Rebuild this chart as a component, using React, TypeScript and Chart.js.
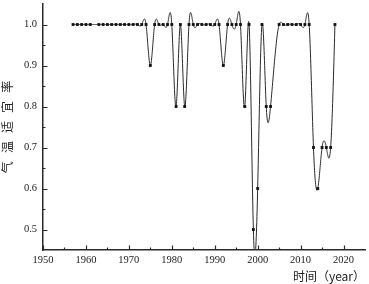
import React, { useEffect, useRef } from "react";
import { Chart, registerables } from "chart.js";

Chart.register(...registerables);

// Years with data (1962 and 2004 have no point)
const years = [
  1957, 1958, 1959, 1960, 1961,
  1963, 1964, 1965, 1966, 1967, 1968, 1969, 1970, 1971, 1972, 1973, 1974,
  1975, 1976, 1977, 1978, 1979, 1980, 1981, 1982, 1983,
  1984, 1985, 1986, 1987, 1988, 1989, 1990, 1991, 1992,
  1993, 1994, 1995, 1996, 1997, 1998, 1999, 2000, 2001, 2002, 2003,
  2005, 2006, 2007, 2008, 2009, 2010, 2011, 2012,
  2013, 2014, 2015, 2016, 2017, 2018,
];
const rates = [
  1.0, 1.0, 1.0, 1.0, 1.0,
  1.0, 1.0, 1.0, 1.0, 1.0, 1.0, 1.0, 1.0, 1.0, 1.0, 1.0, 1.0,
  0.9, 1.0, 1.0, 1.0, 1.0, 1.0, 0.8, 1.0, 0.8,
  1.0, 1.0, 1.0, 1.0, 1.0, 1.0, 1.0, 1.0, 0.9,
  1.0, 1.0, 1.0, 1.0, 0.8, 1.0, 0.5, 0.6, 1.0, 0.8, 0.8,
  1.0, 1.0, 1.0, 1.0, 1.0, 1.0, 1.0, 1.0,
  0.7, 0.6, 0.7, 0.7, 0.7, 1.0,
];
const xTickValues = [1950, 1960, 1970, 1980, 1990, 2000, 2010, 2020];
const xMinorValues = [1955, 1965, 1975, 1985, 1995, 2005, 2015];
const yTickValues = [0.5, 0.6, 0.7, 0.8, 0.9, 1.0];
const yMinorValues = [0.55, 0.65, 0.75, 0.85, 0.95];
const xTitle = "时间（year）";
const yTitle = "气   温   适   宜   率";

function secondDerivs(xs: number[], ys: number[]): number[] {
  const n = xs.length;
  const M = new Array(n).fill(0);
  if (n < 3) return M;
  const a: number[] = [], b: number[] = [], c: number[] = [], d: number[] = [];
  for (let i = 1; i < n - 1; i++) {
    const h0 = xs[i] - xs[i - 1];
    const h1 = xs[i + 1] - xs[i];
    a.push(h0);
    b.push(2 * (h0 + h1));
    c.push(h1);
    d.push(6 * ((ys[i + 1] - ys[i]) / h1 - (ys[i] - ys[i - 1]) / h0));
  }
  const m = b.length;
  for (let i = 1; i < m; i++) {
    const w = a[i] / b[i - 1];
    b[i] -= w * c[i - 1];
    d[i] -= w * d[i - 1];
  }
  const sol = new Array(m).fill(0);
  sol[m - 1] = d[m - 1] / b[m - 1];
  for (let i = m - 2; i >= 0; i--) sol[i] = (d[i] - c[i] * sol[i + 1]) / b[i];
  for (let i = 0; i < m; i++) M[i + 1] = sol[i];
  return M;
}

const splinePlugin = {
  id: "splineLine",
  beforeDatasetsDraw(chart: any) {
    const { ctx, chartArea, scales } = chart;
    const xs = scales.x, ys = scales.y;
    const M = secondDerivs(years, rates);
    ctx.save();
    ctx.beginPath();
    ctx.rect(chartArea.left, chartArea.top, chartArea.right - chartArea.left, chartArea.bottom - chartArea.top);
    ctx.clip();
    ctx.beginPath();
    for (let i = 0; i < years.length - 1; i++) {
      const x0 = years[i], x1 = years[i + 1];
      const y0 = rates[i], y1 = rates[i + 1];
      const h = x1 - x0;
      const steps = 24;
      for (let k = 0; k <= steps; k++) {
        if (i > 0 && k === 0) continue;
        const xv = x0 + (h * k) / steps;
        const A = x1 - xv, B = xv - x0;
        const yv = (M[i] * A * A * A) / (6 * h) + (M[i + 1] * B * B * B) / (6 * h) +
          (y0 / h - (M[i] * h) / 6) * A + (y1 / h - (M[i + 1] * h) / 6) * B;
        const px = xs.getPixelForValue(xv);
        const py = ys.getPixelForValue(yv);
        if (i === 0 && k === 0) ctx.moveTo(px, py);
        else ctx.lineTo(px, py);
      }
    }
    ctx.strokeStyle = "#2a2a2a";
    ctx.lineWidth = 1;
    ctx.stroke();
    ctx.restore();
  },
};

const innerTicksPlugin = {
  id: "innerTicks",
  afterDraw(chart: any) {
    const { ctx, chartArea, scales } = chart;
    const xs = scales.x, ys = scales.y;
    ctx.save();
    ctx.strokeStyle = "#2a2a2a";
    ctx.lineWidth = 1.2;
    ctx.beginPath();
    const b = chartArea.bottom, l = chartArea.left;
    xTickValues.forEach((v) => {
      const p = Math.round(xs.getPixelForValue(v)) + 0.5;
      ctx.moveTo(p, b); ctx.lineTo(p, b - 4.5);
    });
    xMinorValues.forEach((v) => {
      const p = Math.round(xs.getPixelForValue(v)) + 0.5;
      ctx.moveTo(p, b); ctx.lineTo(p, b - 2.5);
    });
    yTickValues.forEach((v) => {
      const p = Math.round(ys.getPixelForValue(v)) + 0.5;
      ctx.moveTo(l, p); ctx.lineTo(l + 4.5, p);
    });
    yMinorValues.forEach((v) => {
      const p = Math.round(ys.getPixelForValue(v)) + 0.5;
      ctx.moveTo(l, p); ctx.lineTo(l + 2.5, p);
    });
    ctx.stroke();
    ctx.restore();
  },
};

export default function App() {
  const ref = useRef<HTMLCanvasElement | null>(null);
  useEffect(() => {
    if (!ref.current) return;
    const tickFont = { family: "'Liberation Serif', 'DejaVu Serif', serif", size: 10.5 };
    const titleFont = { family: "'Noto Sans CJK SC', sans-serif", size: 12 };
    const chart = new Chart(ref.current, {
      type: "scatter",
      data: {
        datasets: [
          {
            data: years.map((y, i) => ({ x: y, y: rates[i] })),
            showLine: false,
            pointStyle: "rect",
            pointRadius: 2,
            pointBackgroundColor: "#111",
            pointBorderColor: "#111",
            pointBorderWidth: 0,
          },
        ],
      },
      options: {
        animation: false,
        responsive: false,
        devicePixelRatio: 1,
        layout: { padding: { top: 1, right: 3.5, left: 0, bottom: 0 } },
        plugins: { legend: { display: false }, tooltip: { enabled: false } },
        scales: {
          x: {
            type: "linear",
            min: 1950,
            max: 2025,
            afterBuildTicks: (s: any) => { s.ticks = xTickValues.map((v) => ({ value: v })); },
            afterFit: (s: any) => { s.height = 34; s.paddingLeft = 0; s.paddingRight = 0; },
            grid: { display: false, drawTicks: false },
            border: { display: true, color: "#2a2a2a", width: 1.5 },
            ticks: { padding: 4, font: tickFont, color: "#222", maxRotation: 0, autoSkip: false, callback: (v: any) => String(v) },
            title: { display: true, text: xTitle, align: "end", font: titleFont, color: "#222", padding: 0 },
          },
          y: {
            type: "linear",
            min: 0.45,
            max: 1.05,
            afterBuildTicks: (s: any) => { s.ticks = yTickValues.map((v) => ({ value: v })); },
            afterFit: (s: any) => { s.width = 43; s.paddingTop = 0; s.paddingBottom = 0; },
            grid: { display: false, drawTicks: false },
            border: { display: true, color: "#2a2a2a", width: 1.5 },
            ticks: { padding: 6, font: tickFont, color: "#222", autoSkip: false, callback: (v: any) => Number(v).toFixed(1) },
            title: { display: true, text: yTitle, font: titleFont, color: "#222", padding: 0 },
          },
        },
      } as any,
      plugins: [splinePlugin, innerTicksPlugin],
    });
    return () => chart.destroy();
  }, []);
  return (
    <div style={{ position: "fixed", left: 0, top: 0, width: 369, height: 284, background: "#fff" }}>
      <canvas ref={ref} width={369} height={284} style={{ display: "block" }} />
    </div>
  );
}
